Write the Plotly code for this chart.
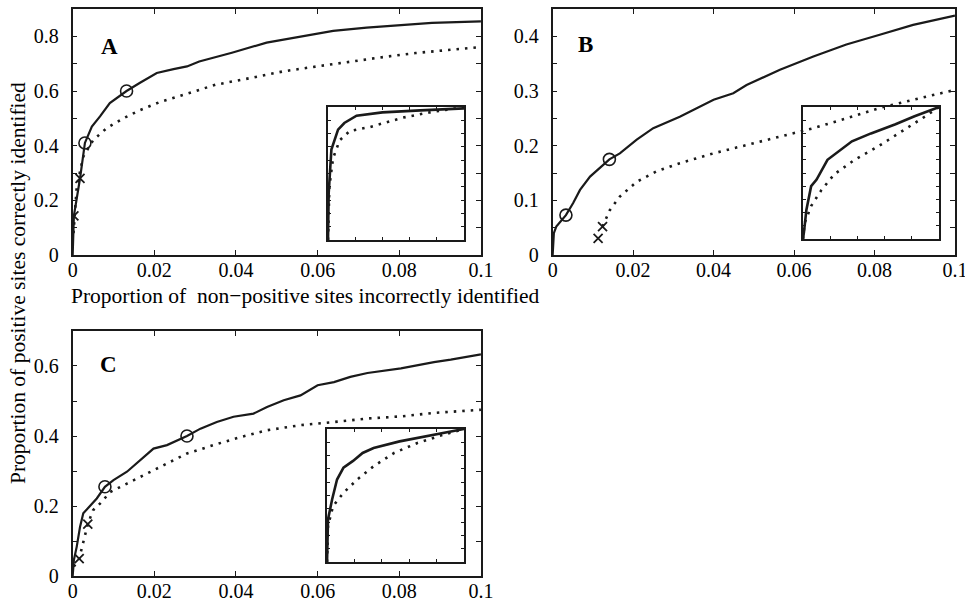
import plotly.graph_objects as go

# ---- Panel A (main) ----
a_solid_x = [0, 0.0003, 0.0018, 0.003, 0.0047, 0.0067, 0.0091, 0.0132, 0.0165, 0.0206, 0.0247, 0.028,
             0.031, 0.039, 0.0475, 0.0557, 0.0638, 0.072, 0.080, 0.088, 0.1]
a_solid_y = [0, 0.143, 0.28, 0.41, 0.47, 0.507, 0.556, 0.60, 0.63, 0.666, 0.68, 0.69,
             0.708, 0.74, 0.777, 0.798, 0.82, 0.832, 0.84, 0.849, 0.855]
a_dot_x = [0.0002, 0.001, 0.0026, 0.005, 0.0083, 0.0124, 0.0165, 0.0214, 0.028, 0.035, 0.0434,
           0.0516, 0.0598, 0.068, 0.076, 0.084, 0.0924, 0.1]
a_dot_y = [0.08, 0.25, 0.36, 0.42, 0.464, 0.50, 0.53, 0.56, 0.59, 0.623, 0.647,
           0.672, 0.69, 0.708, 0.724, 0.739, 0.751, 0.761]
a_circ_x = [0.003, 0.0132]
a_circ_y = [0.41, 0.60]
a_cross_x = [0.0003, 0.0018]
a_cross_y = [0.143, 0.28]

# ---- Panel B (main) ----
b_solid_x = [0, 0.0003, 0.0009, 0.0033, 0.0051, 0.0068, 0.0093, 0.0118, 0.0141, 0.0167, 0.0209, 0.025,
             0.0316, 0.04, 0.0449, 0.0482, 0.0565, 0.0648, 0.073, 0.0813, 0.0896, 0.1]
b_solid_y = [0, 0.04, 0.052, 0.073, 0.095, 0.119, 0.1435, 0.159, 0.175, 0.186, 0.211, 0.232,
             0.253, 0.284, 0.296, 0.311, 0.339, 0.363, 0.385, 0.403, 0.421, 0.438]
b_dot_x = [0.0124, 0.0142, 0.0167, 0.0209, 0.0258, 0.0316, 0.04, 0.0482, 0.0565, 0.0648, 0.073,
           0.0813, 0.0896, 0.1]
b_dot_y = [0.052, 0.082, 0.107, 0.134, 0.153, 0.168, 0.186, 0.2015, 0.217, 0.232, 0.25,
           0.269, 0.284, 0.302]
b_circ_x = [0.0033, 0.0141]
b_circ_y = [0.073, 0.175]
b_cross_x = [0.0113, 0.0124]
b_cross_y = [0.0305, 0.052]

# ---- Panel C (main) ----
c_solid_x = [0, 0.0003, 0.001, 0.0018, 0.0026, 0.0043, 0.0059, 0.0079, 0.01, 0.0133, 0.0165, 0.0198,
             0.0231, 0.028, 0.0313, 0.0353, 0.0394, 0.0443, 0.0476, 0.0517, 0.0558, 0.06, 0.064,
             0.068, 0.0722, 0.0804, 0.0885, 0.0926, 0.1]
c_solid_y = [0, 0.046, 0.084, 0.14, 0.179, 0.2025, 0.2215, 0.255, 0.274, 0.298, 0.331, 0.364,
             0.374, 0.40, 0.421, 0.44, 0.455, 0.464, 0.483, 0.502, 0.516, 0.545, 0.554,
             0.569, 0.58, 0.593, 0.611, 0.618, 0.633]
c_dot_x = [0.0003, 0.0016, 0.0037, 0.005, 0.0067, 0.0092, 0.0133, 0.0182, 0.0231, 0.028, 0.0345,
           0.0411, 0.0476, 0.0558, 0.064, 0.0722, 0.0804, 0.0885, 0.1]
c_dot_y = [0.027, 0.05, 0.148, 0.188, 0.207, 0.24, 0.264, 0.293, 0.321, 0.35, 0.374,
           0.397, 0.4165, 0.431, 0.44, 0.45, 0.456, 0.466, 0.475]
c_circ_x = [0.0079, 0.028]
c_circ_y = [0.255, 0.40]
c_cross_x = [0.0016, 0.0037]
c_cross_y = [0.05, 0.148]

# ---- Insets (full ROC curves) ----
ia_solid_x = [0, 0.005, 0.017, 0.025, 0.074, 0.12, 0.21, 0.4, 0.68, 1]
ia_solid_y = [0, 0.35, 0.55, 0.68, 0.83, 0.88, 0.935, 0.96, 0.975, 0.99]
ia_dot_x = [0, 0.01, 0.037, 0.086, 0.16, 0.31, 0.55, 0.75, 1]
ia_dot_y = [0, 0.40, 0.615, 0.75, 0.82, 0.85, 0.92, 0.96, 1]

ib_solid_x = [0, 0.007, 0.025, 0.06, 0.1, 0.18, 0.36, 0.5, 0.68, 0.82, 1]
ib_solid_y = [0, 0.05, 0.22, 0.40, 0.45, 0.60, 0.74, 0.80, 0.87, 0.93, 1]
ib_dot_x = [0, 0.012, 0.06, 0.135, 0.23, 0.38, 0.55, 0.75, 0.9, 1]
ib_dot_y = [0, 0.12, 0.25, 0.37, 0.49, 0.60, 0.70, 0.83, 0.93, 1]

ic_solid_x = [0, 0.007, 0.037, 0.073, 0.12, 0.19, 0.26, 0.34, 0.53, 0.73, 1]
ic_solid_y = [0, 0.32, 0.47, 0.62, 0.71, 0.76, 0.82, 0.857, 0.907, 0.945, 1]
ic_dot_x = [0, 0.007, 0.044, 0.12, 0.22, 0.34, 0.49, 0.66, 0.85, 1]
ic_dot_y = [0, 0.27, 0.42, 0.52, 0.62, 0.72, 0.82, 0.895, 0.957, 1]

x_ticks = [0, 0.02, 0.04, 0.06, 0.08, 0.1]
x_labels = ["0", "0.02", "0.04", "0.06", "0.08", "0.1"]
ya_ticks = [0, 0.1, 0.2, 0.3, 0.4, 0.5, 0.6, 0.7, 0.8, 0.9]
ya_labels = ["0", "", "0.2", "", "0.4", "", "0.6", "", "0.8", ""]
yb_ticks = [0, 0.05, 0.1, 0.15, 0.2, 0.25, 0.3, 0.35, 0.4, 0.45]
yb_labels = ["0", "", "0.1", "", "0.2", "", "0.3", "", "0.4", ""]
yc_ticks = [0, 0.1, 0.2, 0.3, 0.4, 0.5, 0.6, 0.7]
yc_labels = ["0", "", "0.2", "", "0.4", "", "0.6", ""]

FONT = "Liberation Serif"
INK = "#1a1a1a"
DOTS = "2.5px,6px"

fig = go.Figure()


def add_panel(xa, ya, sx, sy, dx, dy, cx=None, cy=None, kx=None, ky=None, lw=2.2):
    fig.add_trace(go.Scatter(x=dx, y=dy, mode="lines", xaxis=xa, yaxis=ya,
                             line=dict(color=INK, width=2.6, dash=DOTS)))
    fig.add_trace(go.Scatter(x=sx, y=sy, mode="lines", xaxis=xa, yaxis=ya,
                             line=dict(color=INK, width=lw)))
    if cx is not None:
        fig.add_trace(go.Scatter(x=cx, y=cy, mode="markers", xaxis=xa, yaxis=ya,
                                 marker=dict(symbol="circle-open", size=12, color=INK,
                                             line=dict(width=1.6))))
    if kx is not None:
        fig.add_trace(go.Scatter(x=kx, y=ky, mode="markers", xaxis=xa, yaxis=ya,
                                 marker=dict(symbol="x-thin-open", size=9, color=INK,
                                             line=dict(width=1.8))))


add_panel("x", "y", a_solid_x, a_solid_y, a_dot_x, a_dot_y, a_circ_x, a_circ_y, a_cross_x, a_cross_y)
add_panel("x2", "y2", b_solid_x, b_solid_y, b_dot_x, b_dot_y, b_circ_x, b_circ_y, b_cross_x, b_cross_y)
add_panel("x3", "y3", c_solid_x, c_solid_y, c_dot_x, c_dot_y, c_circ_x, c_circ_y, c_cross_x, c_cross_y)
add_panel("x4", "y4", ia_solid_x, ia_solid_y, ia_dot_x, ia_dot_y, lw=2.6)
add_panel("x5", "y5", ib_solid_x, ib_solid_y, ib_dot_x, ib_dot_y, lw=2.6)
add_panel("x6", "y6", ic_solid_x, ic_solid_y, ic_dot_x, ic_dot_y, lw=2.6)

frame = dict(showline=True, mirror="ticks", linecolor=INK, linewidth=1.6, ticks="inside",
             tickcolor=INK, showgrid=False, zeroline=False, fixedrange=True, automargin=False,
             ticklabeloverflow="allow", tickfont=dict(family=FONT, size=20, color="black"))


def main_x(dom, anchor):
    return dict(frame, domain=dom, anchor=anchor, range=[0, 0.1], tickvals=x_ticks,
                ticktext=x_labels, ticklen=5, ticklabelstandoff=-4)


def main_y(dom, anchor, top, tv, tt):
    return dict(frame, domain=dom, anchor=anchor, range=[0, top], tickvals=tv,
                ticktext=tt, ticklen=5, ticklabelstandoff=8)


def inset(dom_x, dom_y, anchor):
    ax_x = dict(frame, domain=dom_x, anchor=anchor[1], range=[0, 1], dtick=0.2,
                showticklabels=False, ticklen=3, linewidth=2)
    ax_y = dict(frame, domain=dom_y, anchor=anchor[0], range=[0, 1], dtick=0.1,
                showticklabels=False, ticklen=3, linewidth=2)
    return ax_x, ax_y


ix4, iy4 = inset([0.3399, 0.4808], [0.6033, 0.8231], ("x4", "y4"))
ix5, iy5 = inset([0.8321, 0.9731], [0.6050, 0.8231], ("x5", "y5"))
ix6, iy6 = inset([0.3389, 0.4808], [0.0711, 0.2909], ("x6", "y6"))

fig.update_layout(
    width=965, height=605, margin=dict(l=0, r=0, t=0, b=0),
    paper_bgcolor="white", plot_bgcolor="rgba(0,0,0,0)", showlegend=False,
    font=dict(family=FONT, color="black"),
    xaxis=main_x([0.0753, 0.4984], "y"),
    yaxis=main_y([0.5785, 0.9851], "x", 0.9, ya_ticks, ya_labels),
    xaxis2=main_x([0.5727, 0.9896], "y2"),
    yaxis2=main_y([0.5785, 0.9851], "x2", 0.45, yb_ticks, yb_labels),
    xaxis3=main_x([0.0753, 0.4984], "y3"),
    yaxis3=main_y([0.0479, 0.4529], "x3", 0.7, yc_ticks, yc_labels),
    xaxis4=ix4, yaxis4=iy4, xaxis5=ix5, yaxis5=iy5, xaxis6=ix6, yaxis6=iy6,
)

# panel letters
for txt, xp, yp in [("A", 109, 46), ("B", 585, 45), ("C", 108, 364)]:
    fig.add_annotation(text="<b>%s</b>" % txt, x=xp / 965, y=1 - yp / 605, xref="paper", yref="paper",
                       xanchor="center", yanchor="middle", showarrow=False,
                       font=dict(family=FONT, size=23, color="black"))

# axis titles
fig.add_annotation(text="Proportion of  non\u2212positive sites incorrectly identified",
                   x=305 / 965, y=1 - 296 / 605, xref="paper", yref="paper", showarrow=False,
                   xanchor="center", yanchor="middle", font=dict(family=FONT, size=21.5, color="black"))
fig.add_annotation(text="Proportion of positive sites correctly identified",
                   x=18 / 965, y=1 - 283 / 605, xref="paper", yref="paper", showarrow=False,
                   xanchor="center", yanchor="middle", textangle=-90,
                   font=dict(family=FONT, size=21.5, color="black"))

# drop the default page margin so the figure sits at the window's corner
fig.write_html("out.html", config={"displayModeBar": False},
               post_script="document.body.style.margin='0';")
